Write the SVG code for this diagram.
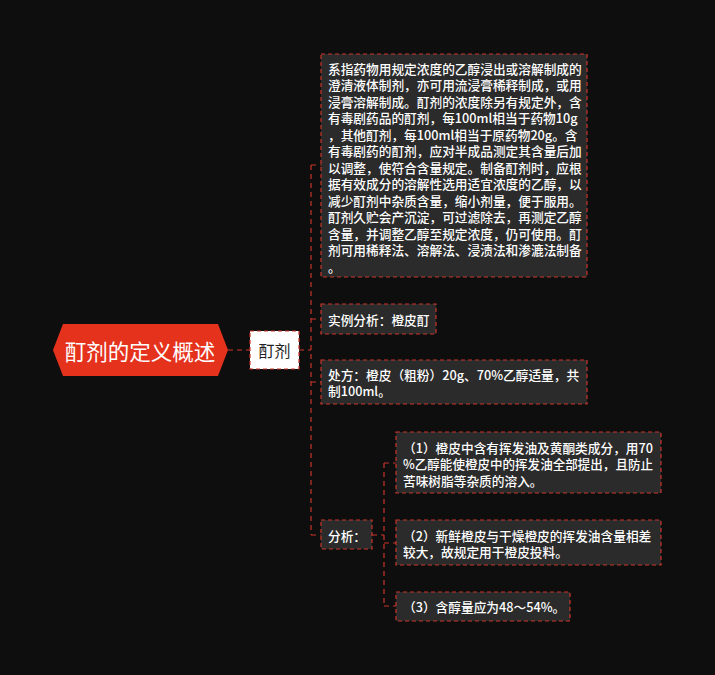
<svg xmlns="http://www.w3.org/2000/svg" width="715" height="675" viewBox="0 0 715 675">
<style>
.bg{fill:#0e0e0e}
.box{fill:#2b2b2b;stroke:#c9352a;stroke-width:1.2;stroke-dasharray:4 3}
.wbox{fill:#ffffff;stroke:#c9352a;stroke-width:1.2;stroke-dasharray:4 3}
.ln{fill:none;stroke:#c9352a;stroke-width:1.2;stroke-dasharray:5 4}
.t{font-family:"Noto Sans CJK SC","Noto Sans",sans-serif;font-size:12.7px;font-weight:500;fill:#ffffff;dominant-baseline:central}
.tr{font-family:"Noto Sans CJK SC","Noto Sans",sans-serif;font-size:21.5px;fill:#ffffff;dominant-baseline:central}
.tb{font-family:"Noto Sans CJK SC","Noto Sans",sans-serif;font-size:16px;fill:#222222;dominant-baseline:central}
</style>
<rect class="bg" x="0" y="0" width="715" height="675"/>
<g id="connectors">
<path class="ln" d="M228 350 H250"/>
<path class="ln" d="M299 350 H311"/>
<path class="ln" d="M311 165 V535"/>
<path class="ln" d="M311 165 H321"/>
<path class="ln" d="M311 319 H321"/>
<path class="ln" d="M311 382 H321"/>
<path class="ln" d="M311 535 H321"/>
<path class="ln" d="M372 535 H384"/>
<path class="ln" d="M384 463 V606"/>
<path class="ln" d="M384 463 H396"/>
<path class="ln" d="M384 543 H396"/>
<path class="ln" d="M384 606 H396"/>
</g>
<g id="root">
<polygon points="53,350 63,324 218,324 228,350 218,376 63,376" fill="#e5321d"/>
<text class="tr" x="140" y="350" text-anchor="middle">酊剂的定义概述</text>
</g>
<g id="n-dingji">
<rect class="wbox" x="250" y="331" width="49" height="38"/>
<text class="tb" x="274.5" y="350" text-anchor="middle">酊剂</text>
</g>
<g id="n-def">
<rect class="box" x="321" y="54" width="266" height="223"/>
<text class="t" x="328" y="68">系指药物用规定浓度的乙醇浸出或溶解制成的</text>
<text class="t" x="328" y="84.5">澄清液体制剂，亦可用流浸膏稀释制成，或用</text>
<text class="t" x="328" y="101">浸膏溶解制成。酊剂的浓度除另有规定外，含</text>
<text class="t" x="328" y="117.5">有毒剧药品的酊剂，每100ml相当于药物10g</text>
<text class="t" x="328" y="134">，其他酊剂，每100ml相当于原药物20g。含</text>
<text class="t" x="328" y="150.5">有毒剧药的酊剂，应对半成品测定其含量后加</text>
<text class="t" x="328" y="167">以调整，使符合含量规定。制备酊剂时，应根</text>
<text class="t" x="328" y="183.5">据有效成分的溶解性选用适宜浓度的乙醇，以</text>
<text class="t" x="328" y="200">减少酊剂中杂质含量，缩小剂量，便于服用。</text>
<text class="t" x="328" y="216.5">酊剂久贮会产沉淀，可过滤除去，再测定乙醇</text>
<text class="t" x="328" y="233">含量，并调整乙醇至规定浓度，仍可使用。酊</text>
<text class="t" x="328" y="249.5">剂可用稀释法、溶解法、浸渍法和渗漉法制备</text>
<text class="t" x="328" y="266">。</text>
</g>
<g id="n-example">
<rect class="box" x="321" y="304" width="115" height="30"/>
<text class="t" x="328" y="319">实例分析：橙皮酊</text>
</g>
<g id="n-recipe">
<rect class="box" x="321" y="360" width="266" height="44"/>
<text class="t" x="328" y="374">处方：橙皮（粗粉）20g、70%乙醇适量，共</text>
<text class="t" x="328" y="390.5">制100ml。</text>
</g>
<g id="n-analysis">
<rect class="box" x="321" y="520" width="51" height="29"/>
<text class="t" x="328" y="535">分析：</text>
</g>
<g id="n-a1">
<rect class="box" x="396" y="432" width="265" height="61"/>
<text class="t" x="403" y="447" textLength="250" lengthAdjust="spacingAndGlyphs">（1）橙皮中含有挥发油及黄酮类成分，用70</text>
<text class="t" x="403" y="463.5" textLength="250" lengthAdjust="spacingAndGlyphs">%乙醇能使橙皮中的挥发油全部提出，且防止</text>
<text class="t" x="403" y="480">苦味树脂等杂质的溶入。</text>
</g>
<g id="n-a2">
<rect class="box" x="396" y="520" width="265" height="45"/>
<text class="t" x="403" y="535">（2）新鲜橙皮与干燥橙皮的挥发油含量相差</text>
<text class="t" x="403" y="551.5">较大，故规定用干橙皮投料。</text>
</g>
<g id="n-a3">
<rect class="box" x="396" y="592" width="174" height="29"/>
<text class="t" x="403" y="606">（3）含醇量应为48～54%。</text>
</g>
</svg>
